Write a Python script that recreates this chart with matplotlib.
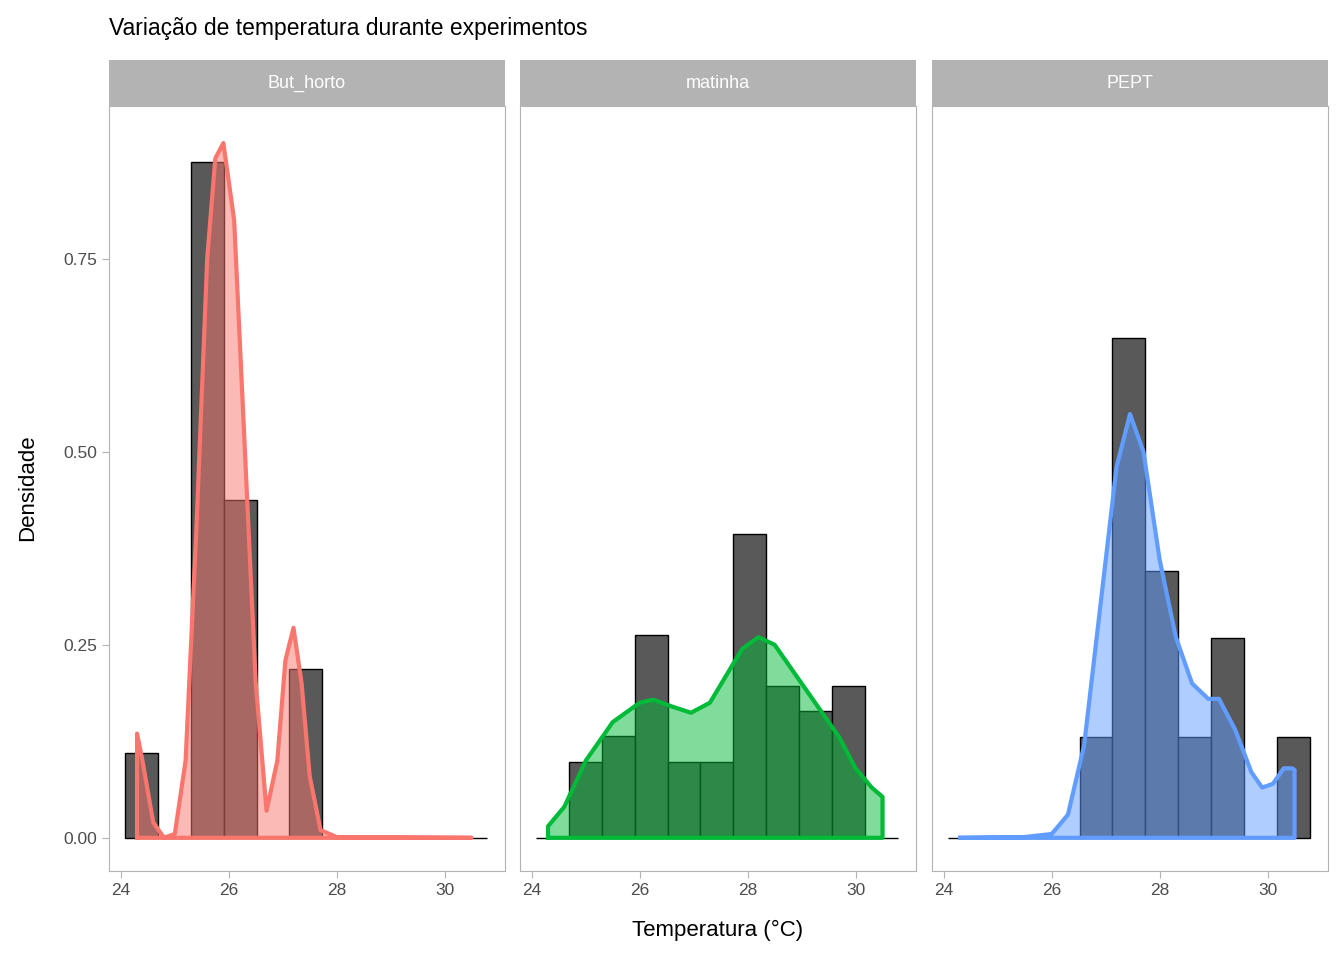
import numpy as np
import matplotlib.pyplot as plt

plt.rcParams['font.family'] = ['Liberation Sans', 'DejaVu Sans']

# bins shared across the panels
bin_start = 24.07
bin_width = 0.611
n_bins = 11

sites = ['But_horto', 'matinha', 'PEPT']
colors = ['#F8766D', '#00BA38', '#619CFF']

hist_heights = {
    'But_horto': [0.110, 0, 0.876, 0.438, 0, 0.219, 0, 0, 0, 0, 0],
    'matinha':   [0, 0.098, 0.132, 0.263, 0.098, 0.098, 0.394, 0.197, 0.164, 0.197, 0],
    'PEPT':      [0, 0, 0, 0, 0.130, 0.648, 0.346, 0.130, 0.259, 0, 0.130],
}

dens_x = {
    'But_horto': [24.3, 24.4, 24.6, 24.8, 25.0, 25.2, 25.4, 25.6, 25.75, 25.9, 26.1, 26.3,
                  26.5, 26.7, 26.9, 27.05, 27.2, 27.35, 27.5, 27.7, 28.0, 30.5],
    'matinha':   [24.3, 24.6, 25.0, 25.5, 26.0, 26.25, 26.6, 26.95, 27.3, 27.6, 27.9, 28.2,
                  28.5, 28.9, 29.3, 29.7, 30.0, 30.3, 30.5],
    'PEPT':      [24.3, 25.5, 26.0, 26.3, 26.6, 26.9, 27.2, 27.45, 27.7, 28.0, 28.3, 28.6,
                  28.9, 29.1, 29.4, 29.7, 29.9, 30.1, 30.3, 30.45, 30.5],
}
dens_y = {
    'But_horto': [0.135, 0.10, 0.02, 0.0, 0.005, 0.10, 0.40, 0.75, 0.88, 0.90, 0.80, 0.50,
                  0.20, 0.035, 0.10, 0.23, 0.272, 0.20, 0.08, 0.01, 0.001, 0.0],
    'matinha':   [0.015, 0.04, 0.10, 0.15, 0.175, 0.179, 0.17, 0.162, 0.175, 0.21, 0.245, 0.26,
                  0.25, 0.21, 0.17, 0.13, 0.09, 0.065, 0.053],
    'PEPT':      [0.0, 0.001, 0.005, 0.03, 0.12, 0.30, 0.48, 0.549, 0.50, 0.36, 0.26, 0.20,
                  0.18, 0.18, 0.14, 0.085, 0.065, 0.07, 0.09, 0.09, 0.088],
}

fig = plt.figure(figsize=(13.44, 9.6), dpi=100)
W, H = 1344, 960
lefts = [109, 520, 932]
pw = 396
top, bottom = 106, 871
edges = bin_start + bin_width * np.arange(n_bins)

axes = []
for i, site in enumerate(sites):
    ax = fig.add_axes([lefts[i] / W, 1 - bottom / H, pw / W, (bottom - top) / H])
    axes.append(ax)
    ax.bar(edges, hist_heights[site], width=bin_width, align='edge',
           color='#595959', edgecolor='black', linewidth=1, zorder=2)
    x = np.array(dens_x[site])
    y = np.array(dens_y[site])
    ax.fill_between(x, 0, y, color=colors[i], alpha=0.5, linewidth=0, zorder=3)
    px = np.concatenate([[x[0]], x, [x[-1], x[0]]])
    py = np.concatenate([[0], y, [0, 0]])
    ax.plot(px, py, color=colors[i], linewidth=3, solid_joinstyle='round', zorder=4)
    ax.set_xlim(23.78, 31.12)
    ax.set_ylim(-0.043, 0.948)
    ax.set_xticks([24, 26, 28, 30])
    ax.set_yticks([0, 0.25, 0.5, 0.75])
    ax.set_yticklabels(['0.00', '0.25', '0.50', '0.75'])
    ax.tick_params(colors='#b3b3b3', labelcolor='#4d4d4d', labelsize=12.5, length=5)
    for s in ax.spines.values():
        s.set_color('#b3b3b3')
    if i > 0:
        ax.tick_params(axis='y', left=False, labelleft=False)
    # strip
    sax = fig.add_axes([lefts[i] / W, 1 - 106 / H, pw / W, 46 / H])
    sax.set_facecolor('#b3b3b3')
    sax.set_xticks([]); sax.set_yticks([])
    for s in sax.spines.values():
        s.set_visible(False)
    sax.text(0.5, 0.5, site, color='white', fontsize=13, ha='center', va='center',
             transform=sax.transAxes)

fig.text(109 / W, 1 - 28 / H, 'Variação de temperatura durante experimentos',
         fontsize=16.5, va='center', ha='left')
fig.text(718 / W, 1 - 930 / H, 'Temperatura (°C)', fontsize=16, ha='center', va='center')
fig.text(28 / W, 1 - 488 / H, 'Densidade', fontsize=16, rotation=90, ha='center', va='center')

fig.savefig('out.png', dpi=100)
